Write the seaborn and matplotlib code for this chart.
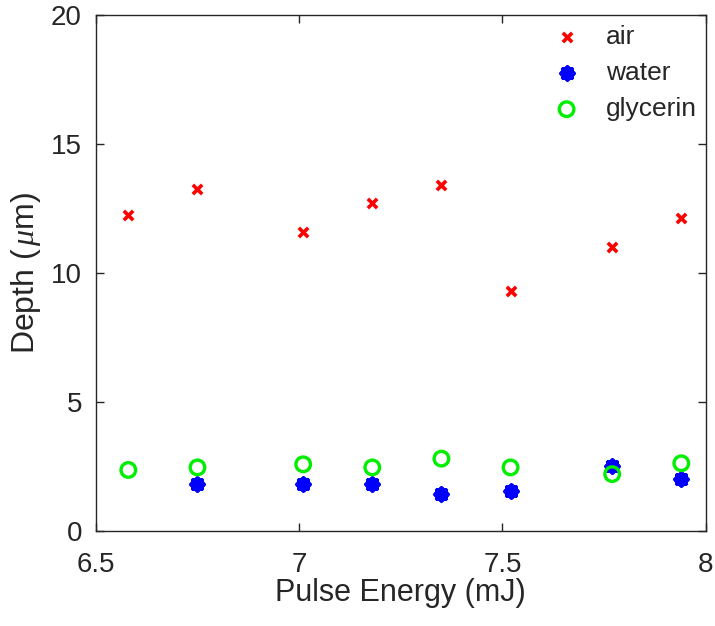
import matplotlib
matplotlib.use("Agg")
import matplotlib.pyplot as plt
import seaborn as sns
import pandas as pd

energy = [6.58, 6.75, 7.01, 7.18, 7.35, 7.52, 7.77, 7.94]
air = [12.25, 13.25, 11.6, 12.7, 13.42, 9.3, 11.02, 12.12]
water_energy = [6.75, 7.01, 7.18, 7.35, 7.52, 7.77, 7.94]
water = [1.8, 1.8, 1.8, 1.42, 1.55, 2.5, 2.0]
glycerin = [2.36, 2.46, 2.58, 2.46, 2.8, 2.46, 2.2, 2.62]

sns.set_theme(style="ticks")
plt.rcParams["font.family"] = ["Liberation Sans", "DejaVu Sans"]
plt.rcParams["mathtext.fontset"] = "custom"
plt.rcParams["mathtext.it"] = "Liberation Serif:italic"

fig = plt.figure(figsize=(7.15, 6.26), dpi=100)
ax = fig.add_axes([0.134, 0.152, 0.853, 0.824])

df_air = pd.DataFrame({"energy": energy, "depth": air})
df_water = pd.DataFrame({"energy": water_energy, "depth": water})
df_gly = pd.DataFrame({"energy": energy, "depth": glycerin})

sns.scatterplot(data=df_air, x="energy", y="depth", ax=ax, marker="x",
                color="#ff0000", s=45, linewidth=2.6, label="air")
sns.scatterplot(data=df_water, x="energy", y="depth", ax=ax, marker=(8, 2, 0),
                color="#0000ff", edgecolor="#0000ff", s=70, linewidth=3.4,
                label="water")
sns.scatterplot(data=df_gly, x="energy", y="depth", ax=ax, marker="o",
                facecolors="none", edgecolor="#00ee00", s=110, linewidth=2.4,
                label="glycerin")

ax.set_xlim(6.5, 8)
ax.set_ylim(0, 20)
ax.set_xticks([6.5, 7, 7.5, 8])
ax.set_xticklabels(["6.5", "7", "7.5", "8"])
ax.set_yticks([0, 5, 10, 15, 20])
ax.tick_params(direction="in", length=6, width=1.0, colors="#262626",
               labelsize=20, top=True, right=True, labelcolor="#262626")
ax.tick_params(axis="x", pad=15)
ax.tick_params(axis="y", pad=10)
for sp in ax.spines.values():
    sp.set_visible(True)
    sp.set_color("#262626")
    sp.set_linewidth(1.0)

ax.set_xlabel("Pulse Energy (mJ)", fontsize=22, color="#262626", labelpad=0)
ax.set_ylabel(r"Depth ($\,\mu$m)", fontsize=23, color="#262626", labelpad=6)

leg = ax.legend(loc="upper right", frameon=False, fontsize=19,
                handletextpad=0.5, labelspacing=0.45,
                bbox_to_anchor=(1.025, 1.026), markerscale=1.0)

fig.savefig("out.png", dpi=100)
